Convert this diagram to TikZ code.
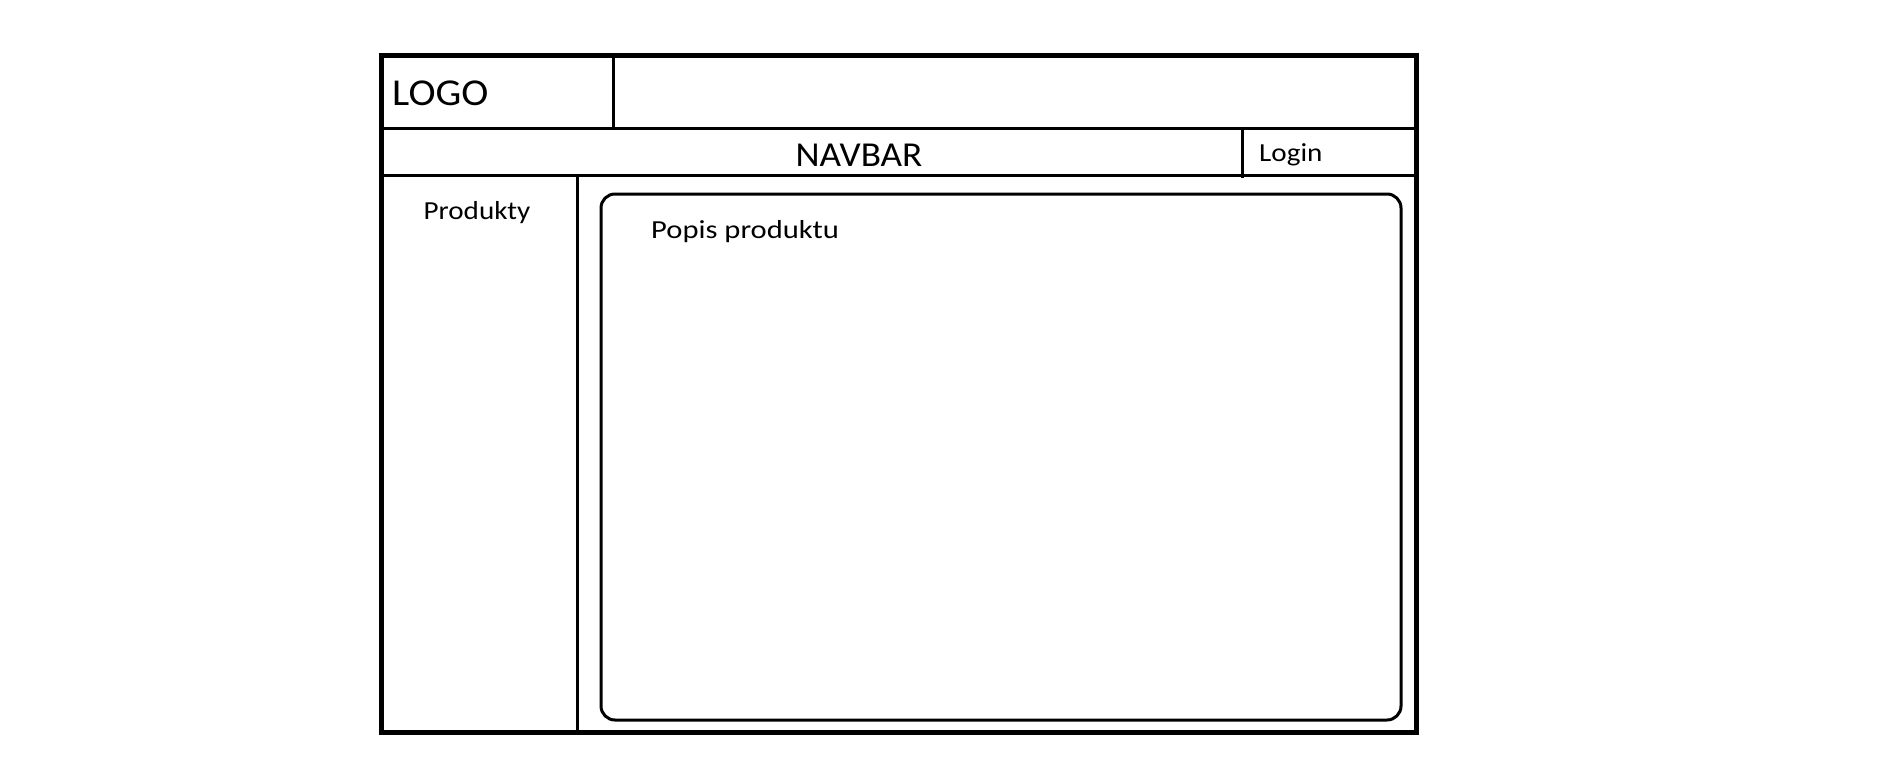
\documentclass[tikz,border=0pt]{standalone}
\usepackage{fontspec}
\setmainfont{Carlito}
\begin{document}
\begin{tikzpicture}[x=1pt,y=-1pt,
  outer/.style={line width=5pt},
  inner/.style={line width=3pt},
  lbl/.style={inner sep=0pt,anchor=base west,xscale=1.12},
  big/.style={font=\fontsize{38}{40}\selectfont},
  mid/.style={font=\fontsize{35}{37}\selectfont},
  small/.style={font=\fontsize{26}{28}\selectfont}]
\useasboundingbox (0,0) rectangle (1879,760);
% outer frame
\draw[outer] (381,56) rectangle (1416,732);
% grid lines
\draw[inner] (613,56) -- (613,128);
\draw[inner] (381,128) -- (1416,128);
\draw[inner] (381,175) -- (1416,175);
\draw[inner] (1242,128) -- (1242,178);
\draw[inner] (577,175) -- (577,732);
% content box
\draw[inner,rounded corners=14pt] (601,194) rectangle (1401,720);
% texts
\node[lbl,big,xscale=0.96] (logo) at (392,105) {LOGO};
\node[lbl,mid,anchor=base,xscale=0.95] (navbar) at (859,166) {NAVBAR};
\node[lbl,small] (login) at (1259,161) {Login};
\node[lbl,small,anchor=base] (produkty) at (477,219) {Produkty};
\node[lbl,small,xscale=1.05] (popis) at (651,238) {Popis produktu};
\end{tikzpicture}
\end{document}
